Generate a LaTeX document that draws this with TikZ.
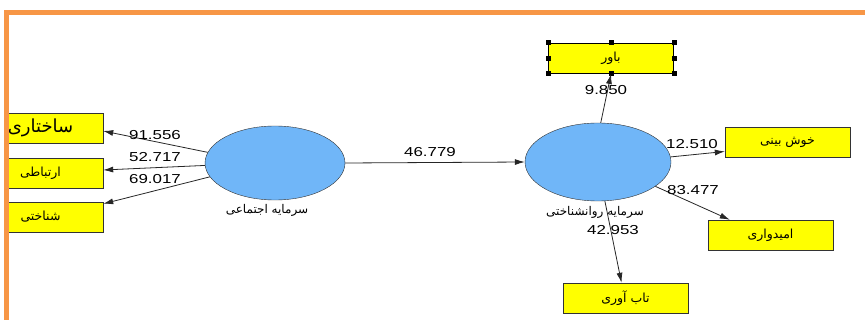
\documentclass[tikz,border=0pt]{standalone}
\usepackage{fontspec}
\setmainfont{Liberation Sans}
\newfontfamily\farsi[Script=Arabic]{DejaVu Sans}
\TeXXeTstate=1
\usetikzlibrary{shapes.geometric}
\usetikzlibrary{arrows.meta}
\newcommand{\fa}[1]{{\farsi\beginR #1\endR}}
\newcommand{\wnum}[1]{\scalebox{1.3}[1]{#1}}
\definecolor{frameorange}{RGB}{247,150,70}
\definecolor{lvblue}{RGB}{112,182,248}
\definecolor{boxyellow}{RGB}{255,255,0}

\begin{document}
\begin{tikzpicture}[x=1pt,y=-1pt,>={Latex[length=10pt,width=6pt]},
    ind/.style={draw=black!80,fill=boxyellow,minimum width=125pt,minimum height=30pt,inner sep=0pt,font=\fontsize{12.5}{14}\selectfont},
    lv/.style={ellipse,draw=black!80,fill=lvblue,inner sep=0pt},
    link/.style={->,black!85,line width=0.8pt},
    wt/.style={font=\fontsize{13}{15}\selectfont,inner sep=0pt},
    lvname/.style={font=\fontsize{12}{14}\selectfont,inner sep=0pt}]
    \useasboundingbox (0,0) rectangle (865,320);
    % latent variables
    \node[lv,minimum width=140pt,minimum height=74pt] (soc) at (275,163) {};
    \node[lv,minimum width=146pt,minimum height=78pt] (psy) at (598,162) {};
    \node[lvname] (soclab) at (267,210) {\fa{سرمایه اجتماعی}};
    \node[lvname] (psylab) at (595,212) {\fa{سرمایه روانشناختی}};
    % indicators of social capital (cut at the frame)
    \begin{scope}
        \clip (8,0) rectangle (865,320);
        \node[ind,font=\fontsize{18}{20}\selectfont] (str) at (40.5,128) {\fa{ساختاری}};
        \node[ind] (com) at (40.5,173) {\fa{ارتباطی}};
        \node[ind] (cog) at (40.5,217) {\fa{شناختی}};
    \end{scope}
    % indicators of psychological capital
    \node[ind,draw=black,line width=1pt] (bel) at (611,58.5) {\fa{باور}};
    \foreach \a in {north west,north,north east,east,south east,south,south west,west}
        \fill ([shift={(-2.5,-2.5)}]bel.\a) rectangle ++(5,5);
    \node[ind] (opt) at (787.5,142.5) {\fa{خوش بینی}};
    \node[ind] (hop) at (770.5,235) {\fa{امیدواری}};
    \node[ind] (res) at (625.5,298) {\fa{تاب آوری}};
    % paths
    \draw[link] (soc.171) -- ([yshift=-3pt]str.east);
    \draw[link] (soc.182) -- ([yshift=3pt]com.east);
    \draw[link] (soc.192) -- ([yshift=-2pt]cog.north east);
    \draw[link] (soc.east) -- (psy.west);
    \draw[link] (psy.86) -- (bel.south);
    \draw[link] (psy.4) -- ([yshift=-9pt]opt.west);
    \draw[link] (psy.337) -- ([xshift=22pt]hop.north west);
    \draw[link] (psy.280) -- ([xshift=-4pt]res.north);
    % weights
    \node[wt] (w1) at (155,135) {\wnum{91.556}};
    \node[wt] (w2) at (155,157) {\wnum{52.717}};
    \node[wt] (w3) at (155,179) {\wnum{69.017}};
    \node[wt] (w4) at (430,152) {\wnum{46.779}};
    \node[wt] (w5) at (606,90) {\wnum{9.850}};
    \node[wt] (w6) at (692,144) {\wnum{12.510}};
    \node[wt] (w7) at (693,190) {\wnum{83.477}};
    \node[wt] (w8) at (613,230) {\wnum{42.953}};
    % frame
    \draw[frameorange,line width=4.5pt] (6.5,320) -- (6.5,12.5) -- (865,12.5);
\end{tikzpicture}
\end{document}
